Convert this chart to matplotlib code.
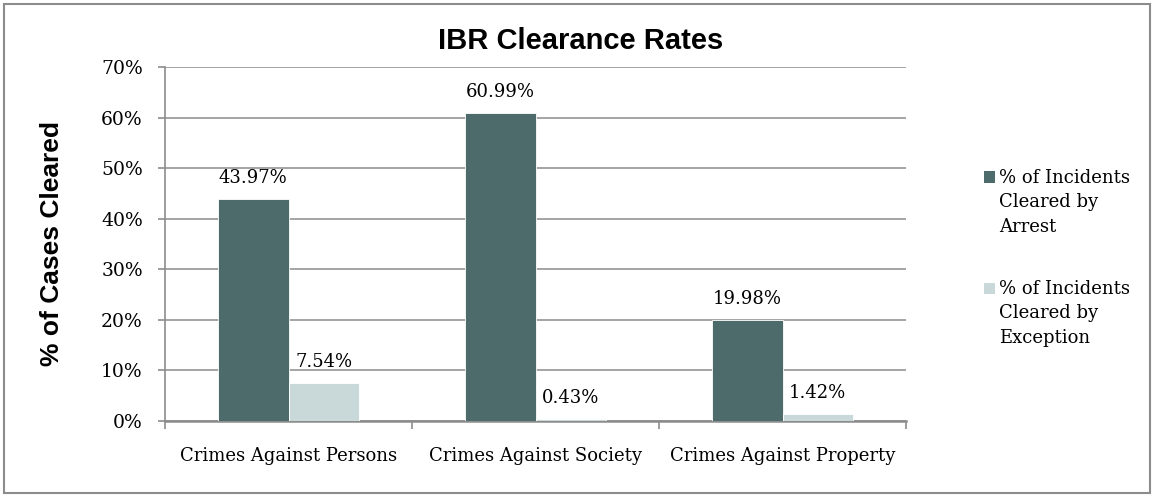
import matplotlib
matplotlib.use("Agg")
import matplotlib.pyplot as plt
from matplotlib.patches import Rectangle
import numpy as np

# Clearance rates by crime category (percent)
categories = ["Crimes Against Persons", "Crimes Against Society", "Crimes Against Property"]
series_names = ["% of Incidents\nCleared by\nArrest", "% of Incidents\nCleared by\nException"]
cleared_by_arrest = [43.97, 60.99, 19.98]
cleared_by_exception = [7.54, 0.43, 1.42]
y_ticks = [0, 10, 20, 30, 40, 50, 60, 70]

dark = "#4e6b6c"
light = "#c9d9d9"
grid_gray = "#8c8c8c"
serif = "DejaVu Serif"

W, H = 1154, 497
fig = plt.figure(figsize=(W / 100, H / 100), dpi=100)
ax = fig.add_axes([165 / W, 1 - 420.7 / H, (906 - 165) / W, (420.7 - 67) / H])

x = np.arange(len(categories))
bw = 0.285
b1 = ax.bar(x - bw / 2, cleared_by_arrest, bw, color=dark, edgecolor="white", linewidth=0.6, zorder=3)
b2 = ax.bar(x + bw / 2, cleared_by_exception, bw, color=light, edgecolor="white", linewidth=0.6, zorder=3)

for bars, vals in ((b1, cleared_by_arrest), (b2, cleared_by_exception)):
    for rect, v in zip(bars, vals):
        ax.annotate(f"{v:.2f}%", (rect.get_x() + rect.get_width() / 2, v),
                    xytext=(0, 11), textcoords="offset points",
                    ha="center", va="baseline", fontsize=13, family=serif, color="black", zorder=4)

ax.set_xlim(-0.5, len(categories) - 0.5)
ax.set_ylim(0, 70)
ax.set_yticks(y_ticks)
ax.set_yticklabels([f"{t}%" for t in y_ticks], family=serif, fontsize=13.5)
ax.yaxis.grid(True, color=grid_gray, linewidth=1.1, zorder=0)
ax.set_axisbelow(True)

ax.set_xticks(x)
ax.set_xticklabels(categories, family=serif, fontsize=13)
ax.set_xticks(np.arange(-0.5, len(categories), 1.0), minor=True)
ax.tick_params(axis="x", which="major", length=0, pad=19)
ax.tick_params(axis="x", which="minor", length=6, width=1.2, color=grid_gray, direction="out")
ax.tick_params(axis="y", which="major", length=5, width=1.2, color=grid_gray, direction="out", pad=11)

for side in ("top", "right"):
    ax.spines[side].set_visible(False)
ax.spines["left"].set_color(grid_gray)
ax.spines["left"].set_linewidth(1.2)
ax.spines["bottom"].set_color(grid_gray)
ax.spines["bottom"].set_linewidth(1.8)

ax.set_ylabel("% of Cases Cleared", family="Liberation Sans", fontweight="bold", fontsize=19)
ax.yaxis.set_label_coords((64 - 165) / (906 - 165), 0.5)

fig.text(581 / W, 1 - 41 / H, "IBR Clearance Rates", family="Liberation Sans",
         fontweight="bold", fontsize=21, ha="center", va="center")

# Legend: swatch beside the first line of each label
legend_tops = [177, 288]
for name, col, yc in zip(series_names, (dark, light), legend_tops):
    fig.patches.append(Rectangle((984 / W, 1 - (yc + 5.5) / H), 11 / W, 11 / H,
                                 transform=fig.transFigure, facecolor=col, edgecolor="none"))
    fig.text(999 / W, 1 - (yc - 8) / H, name, family=serif, fontsize=13, ha="left", va="top",
             linespacing=1.45)

# Chart border
fig.patches.append(Rectangle((4 / W, 4 / H), (W - 8) / W, (H - 8) / H, transform=fig.transFigure,
                             facecolor="none", edgecolor=grid_gray, linewidth=1.5))

fig.savefig("out.png", dpi=100)
